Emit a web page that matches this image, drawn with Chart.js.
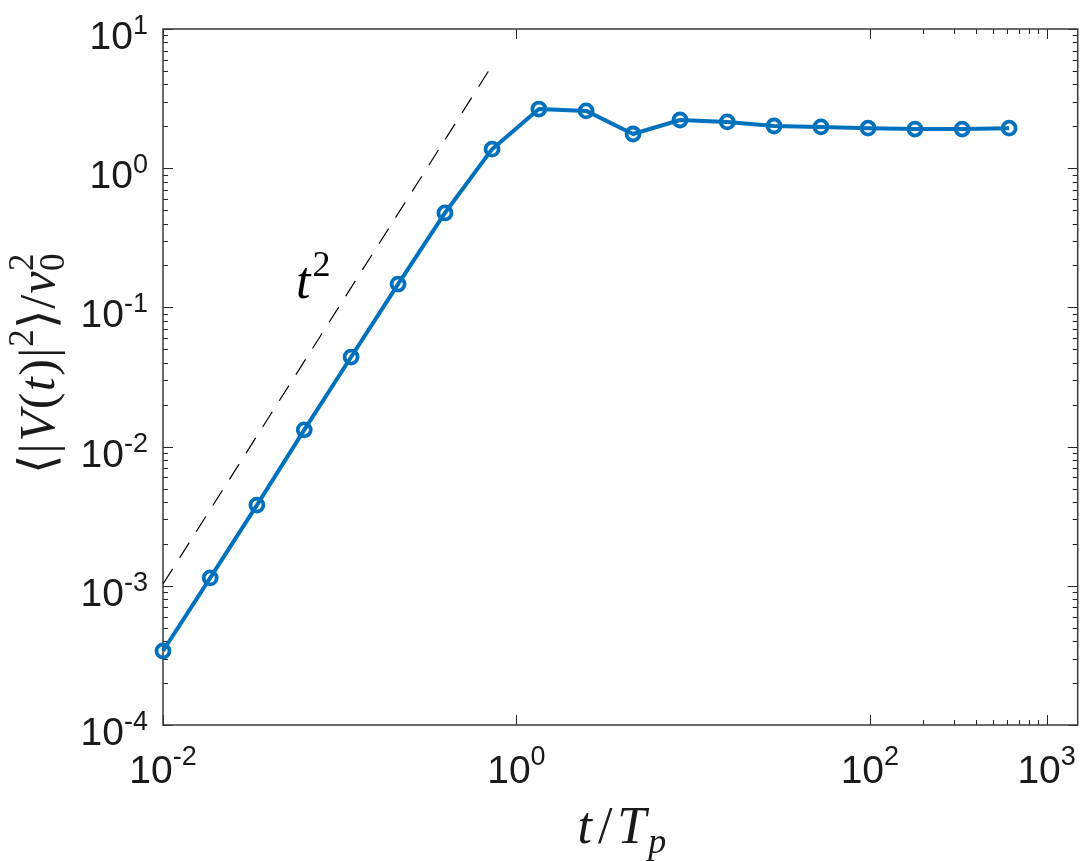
<!DOCTYPE html>
<html>
<head>
<meta charset="utf-8">
<script src="https://cdn.jsdelivr.net/npm/chart.js@4.4.1/dist/chart.umd.min.js"></script>
<style>
  html, body { margin: 0; padding: 0; background: #fff; }
  #wrap { width: 1088px; height: 861px; }
</style>
</head>
<body>
<div id="wrap"><canvas id="chart" width="1088" height="861"></canvas></div>
<script>
// t / T_p
var tValues = [0.01, 0.0185, 0.034, 0.063, 0.116, 0.214, 0.394, 0.728, 1.34, 2.48, 4.57, 8.43, 15.6, 28.7, 52.9, 97.7, 180, 333, 614];
// <|V(t)|^2> / v0^2
var vValues = [3.4e-4, 1.14e-3, 3.8e-3, 0.0132, 0.044, 0.147, 0.477, 1.37, 2.66, 2.58, 1.76, 2.22, 2.15, 2.01, 1.98, 1.94, 1.91, 1.91, 1.94];
// t^2 guide line (end points)
var guideT = [0.01, 0.71];
var guideV = [1.03e-3, 5.2];

// Axis ticks
var xTicks = [0.01, 1, 100, 1000];
var xTickExp = ['-2', '0', '2', '3'];
var xMinor = [200, 300, 400, 500, 600, 700, 800, 900];
var yTicks = [1e-4, 1e-3, 1e-2, 1e-1, 1, 10];
var yTickExp = ['-4', '-3', '-2', '-1', '0', '1'];

var blue = '#0072BD';
var axisColor = '#262626';

function toPoints(xs, ys) {
  var pts = [];
  for (var i = 0; i < xs.length; i++) pts.push({ x: xs[i], y: ys[i] });
  return pts;
}

// ----------------------------------- rich text -------------------------------------------
// parts: {t, f, dy, sp, stay}  stay = next part is stacked on same x (sub/sup)
function richWidth(ctx, parts) {
  var w = 0, hold = 0;
  parts.forEach(function(p) {
    ctx.font = p.f;
    p.w = ctx.measureText(p.t).width + (p.sp || 0);
    if (p.stay) hold = Math.max(hold, p.w);
    else { w += Math.max(hold, p.w); hold = 0; }
  });
  return w;
}

function drawRich(ctx, parts, x, y, align) {
  var w = richWidth(ctx, parts);
  var cx = align == 'center' ? x - w / 2 : (align == 'right' ? x - w : x);
  var hold = 0;
  ctx.textAlign = 'left';
  ctx.textBaseline = 'alphabetic';
  parts.forEach(function(p) {
    ctx.font = p.f;
    ctx.fillText(p.t, cx + (p.sp || 0) / 2, y + (p.dy || 0));
    if (p.stay) hold = Math.max(hold, p.w);
    else { cx += Math.max(hold, p.w); hold = 0; }
  });
}

var tickFont = '39px "Liberation Sans", Arial, Helvetica, sans-serif';
var tickSup = '27px "Liberation Sans", Arial, Helvetica, sans-serif';
var serif = '52px "Liberation Serif", "Times New Roman", serif';
var serifI = 'italic 52px "Liberation Serif", "Times New Roman", serif';
var serifSup = '36px "Liberation Serif", "Times New Roman", serif';
var serifSubI = 'italic 36px "Liberation Serif", "Times New Roman", serif';
var ySerif = '50px "Liberation Serif", "Times New Roman", serif';
var ySerifI = 'italic 50px "Liberation Serif", "Times New Roman", serif';
var ySerifSup = '35px "Liberation Serif", "Times New Roman", serif';

// ----------------------------------- axes plugin -------------------------------------------
var matlabAxes = {
  id: 'matlabAxes',
  beforeDatasetsDraw: function(chart) {
    var ctx = chart.ctx, a = chart.chartArea;
    var xs = chart.scales.x, ys = chart.scales.y;
    ctx.save();
    ctx.strokeStyle = axisColor;
    ctx.lineWidth = 1;
    function seg(x1, y1, x2, y2) {
      ctx.beginPath(); ctx.moveTo(x1, y1); ctx.lineTo(x2, y2); ctx.stroke();
    }
    function tickX(v, len) {
      var px = Math.round(xs.getPixelForValue(v)) + 0.5;
      seg(px, a.bottom, px, a.bottom - len);
      seg(px, a.top, px, a.top + len);
    }
    function tickY(v, len) {
      var py = Math.round(ys.getPixelForValue(v)) + 0.5;
      seg(a.left, py, a.left + len, py);
      seg(a.right, py, a.right - len, py);
    }
    xTicks.forEach(function(v) { tickX(v, 10); });
    xMinor.forEach(function(v) { tickX(v, 5); });
    yTicks.forEach(function(v, i) {
      tickY(v, 10);
      if (i < yTicks.length - 1) {
        for (var m = 2; m <= 9; m++) tickY(v * m, 5);
      }
    });
    ctx.lineWidth = 1.5;
    ctx.strokeStyle = '#3a3a3a';
    ctx.strokeRect(a.left, a.top, a.right - a.left, a.bottom - a.top);
    ctx.restore();
  },
  afterDraw: function(chart) {
    var ctx = chart.ctx, a = chart.chartArea;
    var xs = chart.scales.x, ys = chart.scales.y;
    ctx.save();
    ctx.fillStyle = '#1a1a1a';

    // tick labels
    xTicks.forEach(function(v, i) {
      var px = xs.getPixelForValue(v);
      drawRich(ctx, [{ t: '10', f: tickFont }, { t: xTickExp[i], f: tickSup, dy: -18 }], px, a.bottom + 58, 'center');
    });
    yTicks.forEach(function(v, i) {
      var py = ys.getPixelForValue(v);
      drawRich(ctx, [{ t: '10', f: tickFont }, { t: yTickExp[i], f: tickSup, dy: -15 }], a.left - 15, py + 20, 'right');
    });

    // x label
    drawRich(ctx, [
      { t: 't', f: serifI, sp: 6 }, { t: '/', f: serif, sp: 6 }, { t: 'T', f: serifI, sp: 4 }, { t: 'p', f: serifSubI, dy: 10 }
    ], (a.left + a.right) / 2, 843, 'center');

    // y label
    ctx.save();
    ctx.translate(54, (a.top + a.bottom) / 2 - 13);
    ctx.rotate(-Math.PI / 2);
    drawRich(ctx, [
      { t: '\u27E8', f: ySerif }, { t: '|', f: ySerif, sp: 2 }, { t: 'V', f: ySerifI, sp: 2 }, { t: '(', f: ySerif, sp: 1 },
      { t: 't', f: ySerifI, sp: 2 }, { t: ')', f: ySerif, sp: 1 }, { t: '|', f: ySerif, sp: 2 }, { t: '2', f: ySerifSup, dy: -21 },
      { t: '\u27E9', f: ySerif }, { t: '/', f: ySerif, sp: 1 }, { t: 'v', f: ySerifI, sp: 1 },
      { t: '2', f: ySerifSup, dy: -21, stay: true }, { t: '0', f: ySerifSup, dy: 10 }
    ], 0, 0, 'center');
    ctx.restore();

    // t^2 annotation
    ctx.fillStyle = '#000';
    drawRich(ctx, [{ t: 't', f: serifI, sp: 4 }, { t: '2', f: serifSup, dy: -22 }], 294, 298, 'left');
    ctx.restore();
  }
};

// ----------------------------------- Chart.js -------------------------------------------
var canvas = document.getElementById('chart');
var chart = new Chart(canvas, {
  type: 'line',
  data: {
    datasets: [
      {
        data: toPoints(tValues, vValues),
        borderColor: blue,
        borderWidth: 4,
        borderJoinStyle: 'round',
        pointRadius: 6.5,
        pointBorderWidth: 3.8,
        pointBorderColor: blue,
        pointBackgroundColor: 'rgba(0,0,0,0)',
        tension: 0,
        fill: false,
        clip: false
      },
      {
        data: toPoints(guideT, guideV),
        borderColor: '#000',
        borderWidth: 1.2,
        borderDash: [18, 13],
        pointRadius: 0,
        tension: 0,
        fill: false
      }
    ]
  },
  options: {
    responsive: false,
    animation: false,
    devicePixelRatio: 1,
    layout: { padding: { left: 163, right: 3, top: 29, bottom: 136 } },
    plugins: { legend: { display: false }, tooltip: { enabled: false } },
    scales: {
      x: { type: 'logarithmic', min: 0.01, max: 1500, display: false },
      y: { type: 'logarithmic', min: 1e-4, max: 10, display: false }
    }
  },
  plugins: [matlabAxes]
});
</script>
</body>
</html>
